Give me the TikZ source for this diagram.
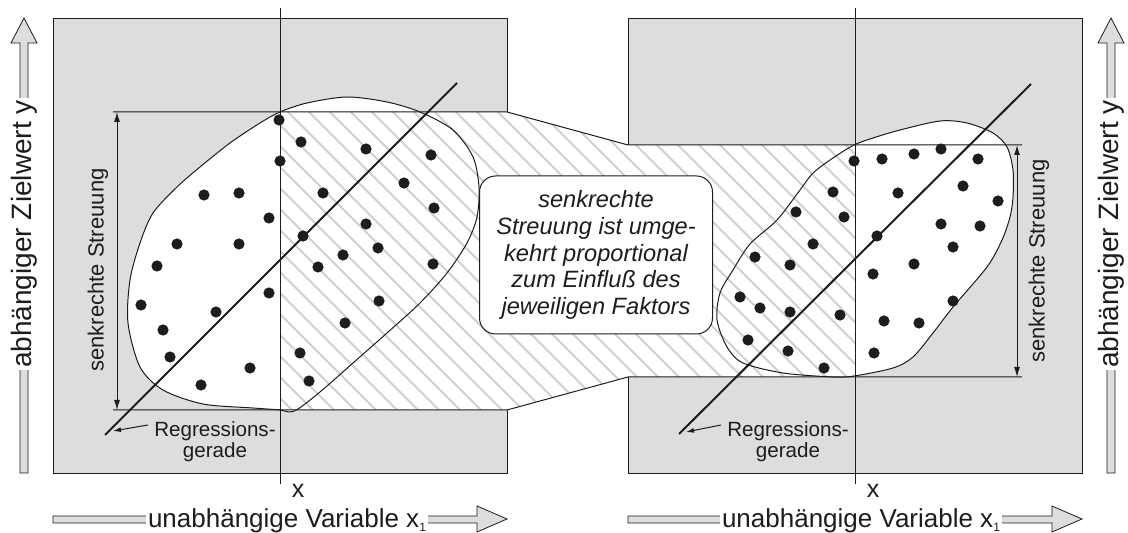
\documentclass[tikz,border=0pt]{standalone}
\usepackage{fontspec}
\setmainfont{Liberation Sans}
\usepackage{tikz}
\usetikzlibrary{arrows.meta}
\definecolor{panel}{RGB}{221, 221, 221}
\definecolor{hatch}{RGB}{208, 208, 208}
\definecolor{ink}{RGB}{30, 28, 28}
\newcommand{\bridge}{(280, 112) -- (507, 112) -- (628, 145) -- (855, 145) -- (855, 377) -- (628, 377) -- (507, 410) -- (280, 410) -- cycle}
\newcommand{\cloudL}{plot[smooth cycle] coordinates {(280, 112) (307, 103) (347, 97) (387, 102) (420, 112) (453, 130) (473, 157) (479, 187) (477, 217) (467, 243) (447, 273) (420, 303) (387, 333) (353, 363) (320, 392) (298, 409) (289, 412) (280, 410) (253, 408) (203, 404) (163, 390) (140, 367) (128, 323) (130, 280) (140, 243) (153, 213) (177, 187) (200, 167) (230, 143) (260, 123)}}
\newcommand{\cloudR}{plot[smooth cycle] coordinates {(854, 145) (873, 138) (900, 130) (940, 121) (967, 123) (993, 133) (1007, 147) (1013, 170) (1013, 197) (1010, 217) (1002, 240) (987, 267) (953, 307) (933, 333) (913, 357) (893, 368) (854, 376) (833, 377) (783, 373) (743, 363) (727, 347) (717, 320) (720, 293) (733, 270) (750, 244) (777, 220) (800, 190) (813, 173) (833, 158)}}

\begin{document}
\begin{tikzpicture}[x=0.5pt, y=-0.5pt, line width=0.5pt, color=ink,
  dim/.style={{Latex[length=5pt, width=3pt]}-{Latex[length=5pt, width=3pt]}},
  pointer/.style={-{Latex[length=4pt, width=2.5pt]}},
  blockarrow/.style={fill=panel, draw=ink, line width=0.4pt},
  axislabel/.style={fill=white, inner xsep=1pt, inner ysep=0pt},
  reglabel/.style={font=\fontsize{10.3}{10.5}\selectfont, align=center, inner sep=1pt}]

  \useasboundingbox (0, 0) rectangle (1128, 533);

  \fill[panel] (53, 19) rectangle (507, 473);
  \fill[panel] (628, 19) rectangle (1082, 473);

  % white band and the two point clouds
  \fill[white] \bridge;
  \fill[white] \cloudL;
  \fill[white] \cloudR;

  \begin{scope}
    \clip \bridge;
    \foreach \i in {-60, -39, ..., 870} {
      \draw[hatch, line width=0.9pt] (\i, 100) -- ++(340, 340);
    }
  \end{scope}

  \draw (507, 112) -- (507, 19) -- (53, 19) -- (53, 473) -- (507, 473) -- (507, 410);
  \draw (628, 145) -- (628, 19) -- (1082, 19) -- (1082, 473) -- (628, 473) -- (628, 377);
  \draw (113, 112) -- (507, 112) -- (628, 145) -- (1022, 145);
  \draw (113, 410) -- (507, 410) -- (628, 377) -- (1022, 377);

  \draw \cloudL;
  \draw \cloudR;

  \draw (280, 8) -- (280, 484);
  \draw (855, 8) -- (855, 484);
  \node[font=\fontsize{12.5}{12.5}\selectfont] (xL) at (298, 491) {x};
  \node[font=\fontsize{12.5}{12.5}\selectfont] (xR) at (873, 491) {x};

  % data points
  \foreach \x/\y in {279/120, 301/142, 280/161, 366/149, 431/155, 204/195, 239/193,
      323/193, 404/183, 269/218, 434/208, 366/224, 303/236, 378/248, 177/244, 239/244,
      157/266, 318/267, 343/255, 433/264, 269/293, 141/305, 216/312, 379/301, 163/330,
      345/323, 170/357, 250/368, 300/353, 201/385, 309/381} {
    \fill (\x, \y) circle (5.6);
  }
  \foreach \x/\y in {854/161, 882/159, 914/154, 941/149, 978/159, 833/192, 898/193,
      963/186, 998/201, 796/212, 844/217, 941/224, 980/226, 877/236, 813/244, 953/247,
      755/257, 790/265, 914/264, 873/274, 740/297, 760/308, 790/312, 840/315, 884/321,
      919/323, 953/301, 748/340, 788/351, 874/353, 824/368} {
    \fill (\x, \y) circle (5.6);
  }

  % regression lines
  \coordinate (lineL0) at (105, 435);
  \coordinate (lineL1) at (457, 83);
  \coordinate (lineR0) at (679, 434);
  \coordinate (lineR1) at (1031, 84);
  \draw[line width=1pt] (lineL0) -- (lineL1);
  \draw[line width=1pt] (lineR0) -- (lineR1);

  \coordinate (tipL) at (113, 431);
  \coordinate (tipR) at (686, 432);
  \node[reglabel] (regL) at (215, 442) {Regressions-\\gerade};
  \node[reglabel] (regR) at (788, 442) {Regressions-\\gerade};
  \draw[pointer] ([xshift=-2pt, yshift=8.5pt]regL.west) -- (tipL);
  \draw[pointer] ([xshift=-2pt, yshift=8.5pt]regR.west) -- (tipR);

  % vertical spread
  \coordinate (spanLtop) at (117, 112);
  \coordinate (spanLbot) at (117, 410);
  \coordinate (spanRtop) at (1017, 145);
  \coordinate (spanRbot) at (1017, 377);
  \draw[dim] (spanLtop) -- (spanLbot);
  \draw[dim] (spanRtop) -- (spanRbot);
  \node[rotate=90, font=\fontsize{11}{11}\selectfont] (spreadL) at (98, 270) {senkrechte Streuung};
  \node[rotate=90, font=\fontsize{11}{11}\selectfont] (spreadR) at (1039, 261) {senkrechte Streuung};

  \node[draw, fill=white, rounded corners=8pt, minimum width=116.5pt, minimum height=79pt,
    align=center, font=\fontsize{11.8}{13.3}\selectfont\itshape] (note) at (596, 255)
    {senkrechte\\Streuung ist umge-\\kehrt proportional\\zum Einfluß des\\jeweiligen Faktors};

  % axis arrows
  \filldraw[blockarrow] (20, 473) -- (20, 43) -- (11, 43) -- (24, 18) -- (37, 43) -- (28, 43) -- (28, 473) -- cycle;
  \filldraw[blockarrow] (1107, 473) -- (1107, 43) -- (1098, 43) -- (1111, 18) -- (1124, 43) -- (1115, 43) -- (1115, 473) -- cycle;
  \node[axislabel, rotate=90, font=\fontsize{14}{14}\selectfont] (yL) at (24, 234) {abhängiger Zielwert y};
  \node[axislabel, rotate=90, font=\fontsize{14}{14}\selectfont] (yR) at (1111, 234) {abhängiger Zielwert y};

  \filldraw[blockarrow] (53, 516) -- (477, 516) -- (477, 506) -- (507, 519) -- (477, 532) -- (477, 523) -- (53, 523) -- cycle;
  \filldraw[blockarrow] (628, 516) -- (1052, 516) -- (1052, 506) -- (1082, 519) -- (1052, 532) -- (1052, 523) -- (628, 523) -- cycle;
  \node[axislabel, anchor=base, font=\fontsize{13}{13}\selectfont] (x1L) at (287, 527)
    {unabhängige Variable x{\fontsize{6}{6}\selectfont\raisebox{-2pt}{1}}};
  \node[axislabel, anchor=base, font=\fontsize{13}{13}\selectfont] (x1R) at (861, 527)
    {unabhängige Variable x{\fontsize{6}{6}\selectfont\raisebox{-2pt}{1}}};

\end{tikzpicture}
\end{document}
